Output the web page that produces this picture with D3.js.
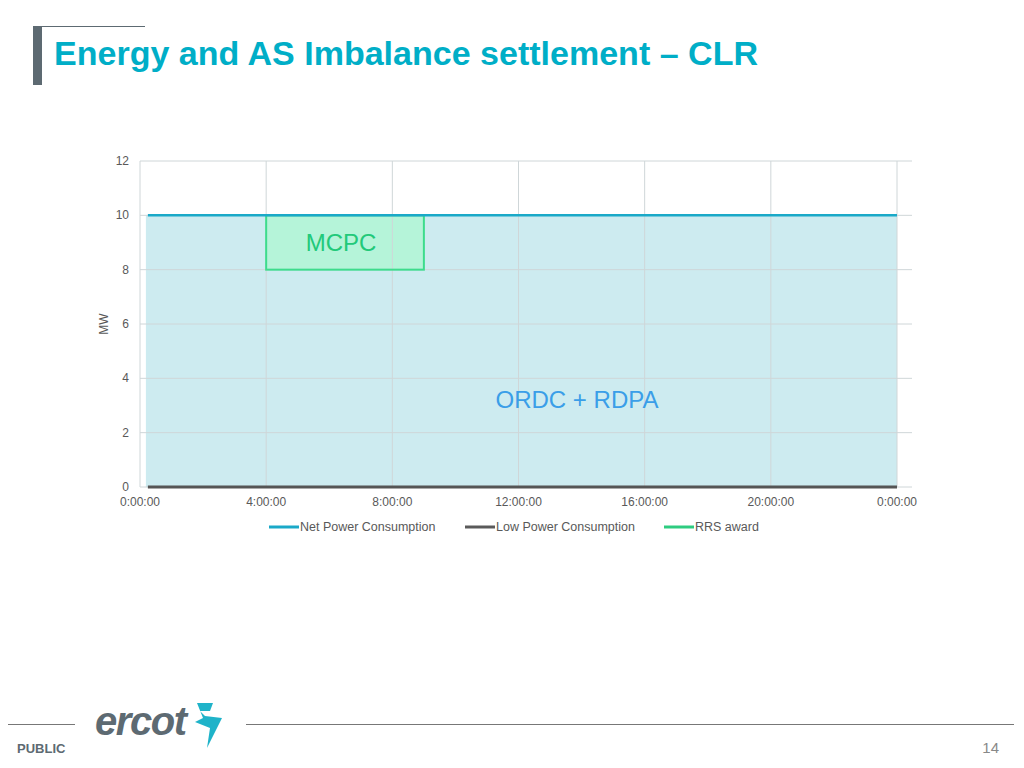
<!DOCTYPE html>
<html><head><meta charset="utf-8">
<script src="https://cdn.jsdelivr.net/npm/d3@7"></script>
<style>body{margin:0;background:#fff;font-family:"Liberation Sans",Arial,sans-serif}</style>
</head><body><svg id="c" width="1024" height="768"></svg>
<script>
const hours = [0.25, 24];
const netPower = [10, 10];
const lowPower = [0, 0];
const rrsHours = [4, 9];
const rrsRange = [8, 10];
const xTicks = [0,4,8,12,16,20,24];
const xTickLabels = ["0:00:00","4:00:00","8:00:00","12:00:00","16:00:00","20:00:00","0:00:00"];
const yTicks = [0,2,4,6,8,10,12];
const legendItems = [["Net Power Consumption","#1aa9c8"],["Low Power Consumption","#5a5a5a"],["RRS award","#2ecc80"]];

const svg = d3.select("#c");
svg.append("rect").attr("x",33).attr("y",26).attr("width",9).attr("height",59).attr("fill","#5d6a72");
svg.append("line").attr("x1",42).attr("x2",145).attr("y1",26.5).attr("y2",26.5).attr("stroke","#5d6a72");
svg.append("text").attr("x",54).attr("y",65).attr("fill","#00aec7").attr("font-size",33.5).attr("font-weight","bold").attr("lengthAdjust","spacingAndGlyphs").attr("textLength",704).text("Energy and AS Imbalance settlement – CLR");

const x = d3.scaleLinear().domain([0,24]).range([140,897]);
const y = d3.scaleLinear().domain([0,12]).range([487,161]);
const g = svg.append("g");
g.append("rect").attr("x",x(hours[0])-2).attr("y",y(netPower[0])).attr("width",x(hours[1])-x(hours[0])+2).attr("height",y(0)-y(netPower[0])).attr("fill","#cdebf0");
g.append("rect").attr("x",x(rrsHours[0])).attr("y",y(rrsRange[1])).attr("width",x(rrsHours[1])-x(rrsHours[0])).attr("height",y(rrsRange[0])-y(rrsRange[1]))
 .attr("fill","#b3f5d6").attr("fill-opacity",0.9);
g.selectAll(".hg").data(yTicks).join("line").attr("x1",140).attr("x2",912).attr("y1",d=>y(d)).attr("y2",d=>y(d)).attr("stroke","#cfd6d8");
g.selectAll(".vg").data(xTicks).join("line").attr("x1",d=>x(d)).attr("x2",d=>x(d)).attr("y1",161).attr("y2",487).attr("stroke","#cfd6d8");
g.append("rect").attr("x",x(rrsHours[0])).attr("y",y(rrsRange[1])).attr("width",x(rrsHours[1])-x(rrsHours[0])).attr("height",y(rrsRange[0])-y(rrsRange[1]))
 .attr("fill","none").attr("stroke","#3ddc8c").attr("stroke-width",2);
const line = d3.line().x((d,i)=>x(hours[i])).y(d=>y(d));
g.append("path").attr("d",line(netPower)).attr("stroke","#1aa9c8").attr("stroke-width",2.5).attr("fill","none");
g.append("path").attr("d",line(lowPower)).attr("stroke","#555").attr("stroke-width",3).attr("fill","none");
g.selectAll(".yl").data(yTicks).join("text").attr("x",129).attr("y",d=>y(d)+4).attr("text-anchor","end").attr("font-size",12).attr("fill","#595959").text(d=>d);
g.selectAll(".xl").data(xTicks).join("text").attr("x",d=>x(d)).attr("y",506).attr("text-anchor","middle").attr("font-size",12).attr("fill","#595959").text((d,i)=>xTickLabels[i]);
g.append("text").attr("transform","translate(108,324) rotate(-90)").attr("text-anchor","middle").attr("font-size",12).attr("fill","#595959").text("MW");
g.append("text").attr("x",341).attr("y",251).attr("text-anchor","middle").attr("font-size",24).attr("fill","#22c97a").text("MCPC");
g.append("text").attr("x",577).attr("y",408).attr("text-anchor","middle").attr("font-size",24).attr("fill","#3a9ee8").text("ORDC + RDPA");
const lx=[269,465,664];
legendItems.forEach((d,i)=>{
  svg.append("line").attr("x1",lx[i]).attr("x2",lx[i]+30).attr("y1",527).attr("y2",527).attr("stroke",d[1]).attr("stroke-width",3);
  svg.append("text").attr("x",lx[i]+31).attr("y",531).attr("font-size",12.5).attr("fill","#595959").text(d[0]);
});
svg.append("line").attr("x1",8).attr("x2",75).attr("y1",724.5).attr("y2",724.5).attr("stroke","#777");
svg.append("line").attr("x1",246).attr("x2",1014).attr("y1",724.5).attr("y2",724.5).attr("stroke","#777");
svg.append("text").attr("x",17).attr("y",753).attr("font-size",13).attr("font-weight","bold").attr("fill","#5d6a72").text("PUBLIC");
svg.append("text").attr("x",95).attr("y",735).attr("font-size",40).attr("font-style","italic").attr("font-weight","bold").attr("fill","#5d6a72").attr("textLength",92).text("ercot");
svg.append("path").attr("d","M197,703 L213,703 L210,711 L200,711 L205,716 L222,718 L207,748 L210,728 L195,722 L203,718 Z").attr("fill","#1fb3c9");
svg.append("text").attr("x",999).attr("y",753).attr("text-anchor","end").attr("font-size",15).attr("fill","#888").text("14");
</script></body></html>
